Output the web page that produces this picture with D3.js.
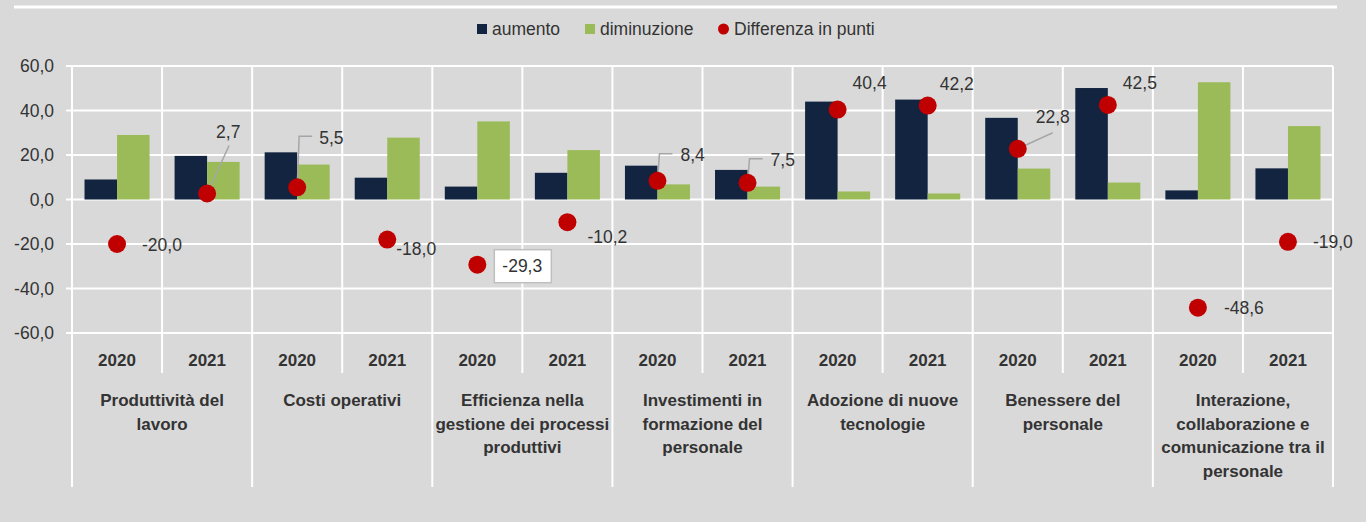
<!DOCTYPE html>
<html>
<head>
<meta charset="utf-8">
<script src="https://cdn.jsdelivr.net/npm/d3@7"></script>
<style>
  body { margin: 0; background: #d9d9d9; }
  svg { display: block; font-family: "Liberation Sans", Arial, sans-serif; }
</style>
</head>
<body>
<svg id="container"></svg>
<script>
// data
const categories = [
    ['Produttività del', 'lavoro'],
    ['Costi operativi'],
    ['Efficienza nella', 'gestione dei processi', 'produttivi'],
    ['Investimenti in', 'formazione del', 'personale'],
    ['Adozione di nuove', 'tecnologie'],
    ['Benessere del', 'personale'],
    ['Interazione,', 'collaborazione e', 'comunicazione tra il', 'personale']
];
const years = ['2020', '2021'];
// one value per category/year, in order
const aumento     = [9.0, 19.6, 21.2, 9.8, 5.8, 12.0, 15.2, 13.3, 44.0, 44.9, 36.7, 50.1, 4.1, 14.0];
const diminuzione = [29.0, 16.9, 15.7, 27.8, 35.1, 22.2, 6.8, 5.8, 3.6, 2.7, 13.9, 7.6, 52.7, 33.0];
const differenza  = [-20.0, 2.7, 5.5, -18.0, -29.3, -10.2, 8.4, 7.5, 40.4, 42.2, 22.8, 42.5, -48.6, -19.0];
const yTicks = [-60, -40, -20, 0, 20, 40, 60];

// where each difference label sits, relative to its dot (moved by hand in the original)
const labelPos = [
    {dx: 25, dy: 1},
    {dx: 9, dy: -62, leader: [[22, -48]]},
    {dx: 22, dy: -50, leader: [[2, -51], [15, -51]]},
    {dx: 9, dy: 9},
    {dx: 25, dy: 1, box: true},
    {dx: 20, dy: 14},
    {dx: 23, dy: -26, leader: [[2, -27], [15, -27]]},
    {dx: 23, dy: -23, leader: [[2, -24], [15, -24]]},
    {dx: 15, dy: -27},
    {dx: 12, dy: -22},
    {dx: 18, dy: -32, leader: [[35, -16]]},
    {dx: 15, dy: -22},
    {dx: 26, dy: 0},
    {dx: 25, dy: 0}
];

const width = 1366;
const height = 522;
const colors = {aumento: '#12243f', diminuzione: '#9bbb59', diff: '#c00000'};
const textColor = '#333333';

const rows = [];
categories.forEach((c, i) => {
    years.forEach((yr, j) => {
        const k = i * 2 + j;
        rows.push({key: k, cat: i, year: yr, aumento: aumento[k], diminuzione: diminuzione[k], diff: differenza[k]});
    });
});

const itLocale = d3.formatLocale({decimal: ',', thousands: '.', grouping: [3], currency: ['', '€'], minus: '-'});
const fmt = itLocale.format('.1f');

const svg = d3.select('#container')
    .attr('width', width)
    .attr('height', height);

svg.append('rect').attr('width', width).attr('height', height).attr('fill', '#d9d9d9');

// white rule at the top
svg.append('line')
    .attr('x1', 14).attr('x2', 1337)
    .attr('y1', 7).attr('y2', 7)
    .attr('stroke', '#fff').attr('stroke-width', 3);

const x = d3.scaleBand()
    .domain(rows.map(d => d.key))
    .range([72, 1333]);

const x1 = d3.scaleBand()
    .domain(['aumento', 'diminuzione'])
    .range([0, x.bandwidth()])
    .paddingOuter(0.385);

const y = d3.scaleLinear()
    .domain([-60, 60])
    .range([333, 66]);

// horizontal gridlines + ticks
svg.append('g')
    .selectAll('line')
    .data(yTicks)
    .enter()
    .append('line')
    .attr('x1', 66).attr('x2', 1333)
    .attr('y1', d => y(d)).attr('y2', d => y(d))
    .attr('stroke', '#fff').attr('stroke-width', 2);

svg.append('g')
    .selectAll('text')
    .data(yTicks)
    .enter()
    .append('text')
    .attr('x', 54)
    .attr('y', d => y(d))
    .attr('dy', '0.36em')
    .attr('text-anchor', 'end')
    .attr('font-size', 17.5)
    .attr('fill', textColor)
    .text(d => fmt(d));

// vertical separators: every column to the plot bottom, longer below for groups
const bounds = d3.range(rows.length + 1);
svg.append('g')
    .selectAll('line')
    .data(bounds)
    .enter()
    .append('line')
    .attr('x1', d => 72 + d * x.step())
    .attr('x2', d => 72 + d * x.step())
    .attr('y1', y(60))
    .attr('y2', d => d % 2 === 0 ? 487 : 373)
    .attr('stroke', '#fff').attr('stroke-width', 2);

// bars
const groups = svg.append('g')
    .selectAll('g')
    .data(rows)
    .enter()
    .append('g')
    .attr('transform', d => 'translate(' + x(d.key) + ',0)');

groups.selectAll('rect')
    .data(d => [{s: 'aumento', v: d.aumento}, {s: 'diminuzione', v: d.diminuzione}])
    .enter()
    .append('rect')
    .attr('x', d => x1(d.s))
    .attr('width', x1.bandwidth())
    .attr('y', d => y(Math.max(0, d.v)))
    .attr('height', d => Math.abs(y(d.v) - y(0)))
    .attr('fill', d => colors[d.s]);

// leader lines
const cx = d => x(d.key) + x.bandwidth() / 2;
svg.append('g')
    .selectAll('polyline')
    .data(rows.filter(d => labelPos[d.key].leader))
    .enter()
    .append('polyline')
    .attr('points', d => {
        const px = cx(d), py = y(d.diff);
        return [[px, py]].concat(labelPos[d.key].leader.map(p => [px + p[0], py + p[1]]))
            .map(p => p.join(',')).join(' ');
    })
    .attr('fill', 'none')
    .attr('stroke', '#a6a6a6')
    .attr('stroke-width', 1.5);

// dots
svg.append('g')
    .selectAll('circle')
    .data(rows)
    .enter()
    .append('circle')
    .attr('cx', cx)
    .attr('cy', d => y(d.diff))
    .attr('r', 9)
    .attr('fill', colors.diff);

// labels
const labels = svg.append('g')
    .selectAll('g')
    .data(rows)
    .enter()
    .append('g')
    .attr('transform', d => 'translate(' + (cx(d) + labelPos[d.key].dx) + ',' + (y(d.diff) + labelPos[d.key].dy) + ')');

labels.filter(d => labelPos[d.key].box)
    .append('rect')
    .attr('x', -8).attr('y', -16)
    .attr('width', 57).attr('height', 33)
    .attr('fill', '#fff')
    .attr('stroke', '#bfbfbf')
    .attr('stroke-width', 1.5);

labels.append('text')
    .attr('dy', '0.36em')
    .attr('font-size', 17.5)
    .attr('fill', textColor)
    .text(d => fmt(d.diff));

// year labels
svg.append('g')
    .selectAll('text')
    .data(rows)
    .enter()
    .append('text')
    .attr('x', cx)
    .attr('y', 360)
    .attr('dy', '0.36em')
    .attr('text-anchor', 'middle')
    .attr('font-size', 17)
    .attr('font-weight', 'bold')
    .attr('fill', textColor)
    .text(d => d.year);

// category labels
const catText = svg.append('g')
    .selectAll('text')
    .data(categories)
    .enter()
    .append('text')
    .attr('text-anchor', 'middle')
    .attr('font-size', 17)
    .attr('font-weight', 'bold')
    .attr('fill', textColor);

catText.selectAll('tspan')
    .data((d, i) => d.map(t => ({t: t, i: i})))
    .enter()
    .append('tspan')
    .attr('x', d => x(d.i * 2) + x.step())
    .attr('y', (d, j) => 400 + j * 23.5)
    .attr('dy', '0.36em')
    .text(d => d.t);

// legend
const legendItems = [
    {name: 'aumento', color: colors.aumento, shape: 'rect', x: 477},
    {name: 'diminuzione', color: colors.diminuzione, shape: 'rect', x: 585},
    {name: 'Differenza in punti', color: colors.diff, shape: 'circle', x: 718}
];
const legend = svg.append('g')
    .selectAll('g')
    .data(legendItems)
    .enter()
    .append('g')
    .attr('transform', d => 'translate(' + d.x + ',29)');

legend.filter(d => d.shape === 'rect')
    .append('rect')
    .attr('x', 0).attr('y', -5)
    .attr('width', 10).attr('height', 10)
    .attr('fill', d => d.color);

legend.filter(d => d.shape === 'circle')
    .append('circle')
    .attr('cx', 5.5).attr('cy', 0)
    .attr('r', 5.5)
    .attr('fill', d => d.color);

legend.append('text')
    .attr('x', d => d.shape === 'rect' ? 15 : 16)
    .attr('dy', '0.36em')
    .attr('font-size', 17.5)
    .attr('fill', textColor)
    .text(d => d.name);
</script>
</body>
</html>
